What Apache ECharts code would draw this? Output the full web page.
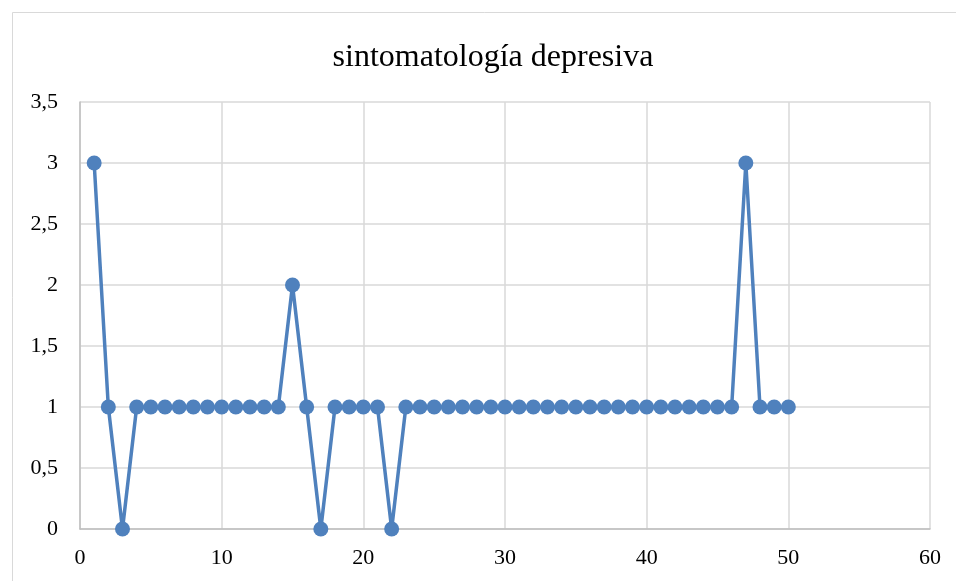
<!DOCTYPE html>
<html>
<head>
<meta charset="utf-8">
<script src="https://cdn.jsdelivr.net/npm/echarts@6/dist/echarts.min.js"></script>
<style>html,body{margin:0;padding:0;background:#fff}#c{width:956px;height:581px}</style>
</head>
<body>
<div id="c"></div>
<script>
const titleText = 'sintomatología depresiva';
const xValues = [1,2,3,4,5,6,7,8,9,10,11,12,13,14,15,16,17,18,19,20,21,22,23,24,25,26,27,28,29,30,31,32,33,34,35,36,37,38,39,40,41,42,43,44,45,46,47,48,49,50];
const yValues = [3,1,0,1,1,1,1,1,1,1,1,1,1,1,2,1,0,1,1,1,1,0,1,1,1,1,1,1,1,1,1,1,1,1,1,1,1,1,1,1,1,1,1,1,1,1,3,1,1,1];
const xAxisRange = {min: 0, max: 60, interval: 10};
const yAxisRange = {min: 0, max: 3.5, interval: 0.5};

const points = xValues.map((x, i) => [x, yValues[i]]);
const font = '"Liberation Serif", "Times New Roman", serif';
const chart = echarts.init(document.getElementById('c'), null, {renderer: 'canvas'});
chart.setOption({
  backgroundColor: '#ffffff',
  animation: false,
  graphic: [{
    type: 'rect',
    shape: {x: 12.5, y: 12.5, width: 1200, height: 1200},
    style: {fill: 'none', stroke: '#d9d9d9', lineWidth: 1},
    silent: true, z: -10
  }],
  title: {
    text: titleText,
    left: 488, textAlign: 'center',
    top: 37,
    textStyle: {fontFamily: font, fontSize: 32, fontWeight: 'normal', color: '#000'}
  },
  grid: {left: 80, right: 26, top: 102, bottom: 52, containLabel: false},
  xAxis: {
    type: 'value',
    min: xAxisRange.min, max: xAxisRange.max, interval: xAxisRange.interval,
    axisLine: {show: true, lineStyle: {color: '#bfbfbf', width: 1.5}},
    axisTick: {show: false},
    splitLine: {show: true, lineStyle: {color: '#d9d9d9', width: 1.5}},
    axisLabel: {fontFamily: font, fontSize: 22, color: '#000', margin: 18}
  },
  yAxis: {
    type: 'value',
    min: yAxisRange.min, max: yAxisRange.max, interval: yAxisRange.interval,
    axisLine: {show: true, lineStyle: {color: '#bfbfbf', width: 1.5}},
    axisTick: {show: false},
    splitLine: {show: true, lineStyle: {color: '#d9d9d9', width: 1.5}},
    axisLabel: {fontFamily: font, fontSize: 22, color: '#000', margin: 22,
      formatter: v => String(v).replace('.', ',')}
  },
  series: [{
    type: 'line',
    data: points,
    symbol: 'circle',
    symbolSize: 15,
    showAllSymbol: true,
    lineStyle: {color: '#4f81bd', width: 3.5},
    itemStyle: {color: '#4f81bd'}
  }]
});
</script>
</body>
</html>
